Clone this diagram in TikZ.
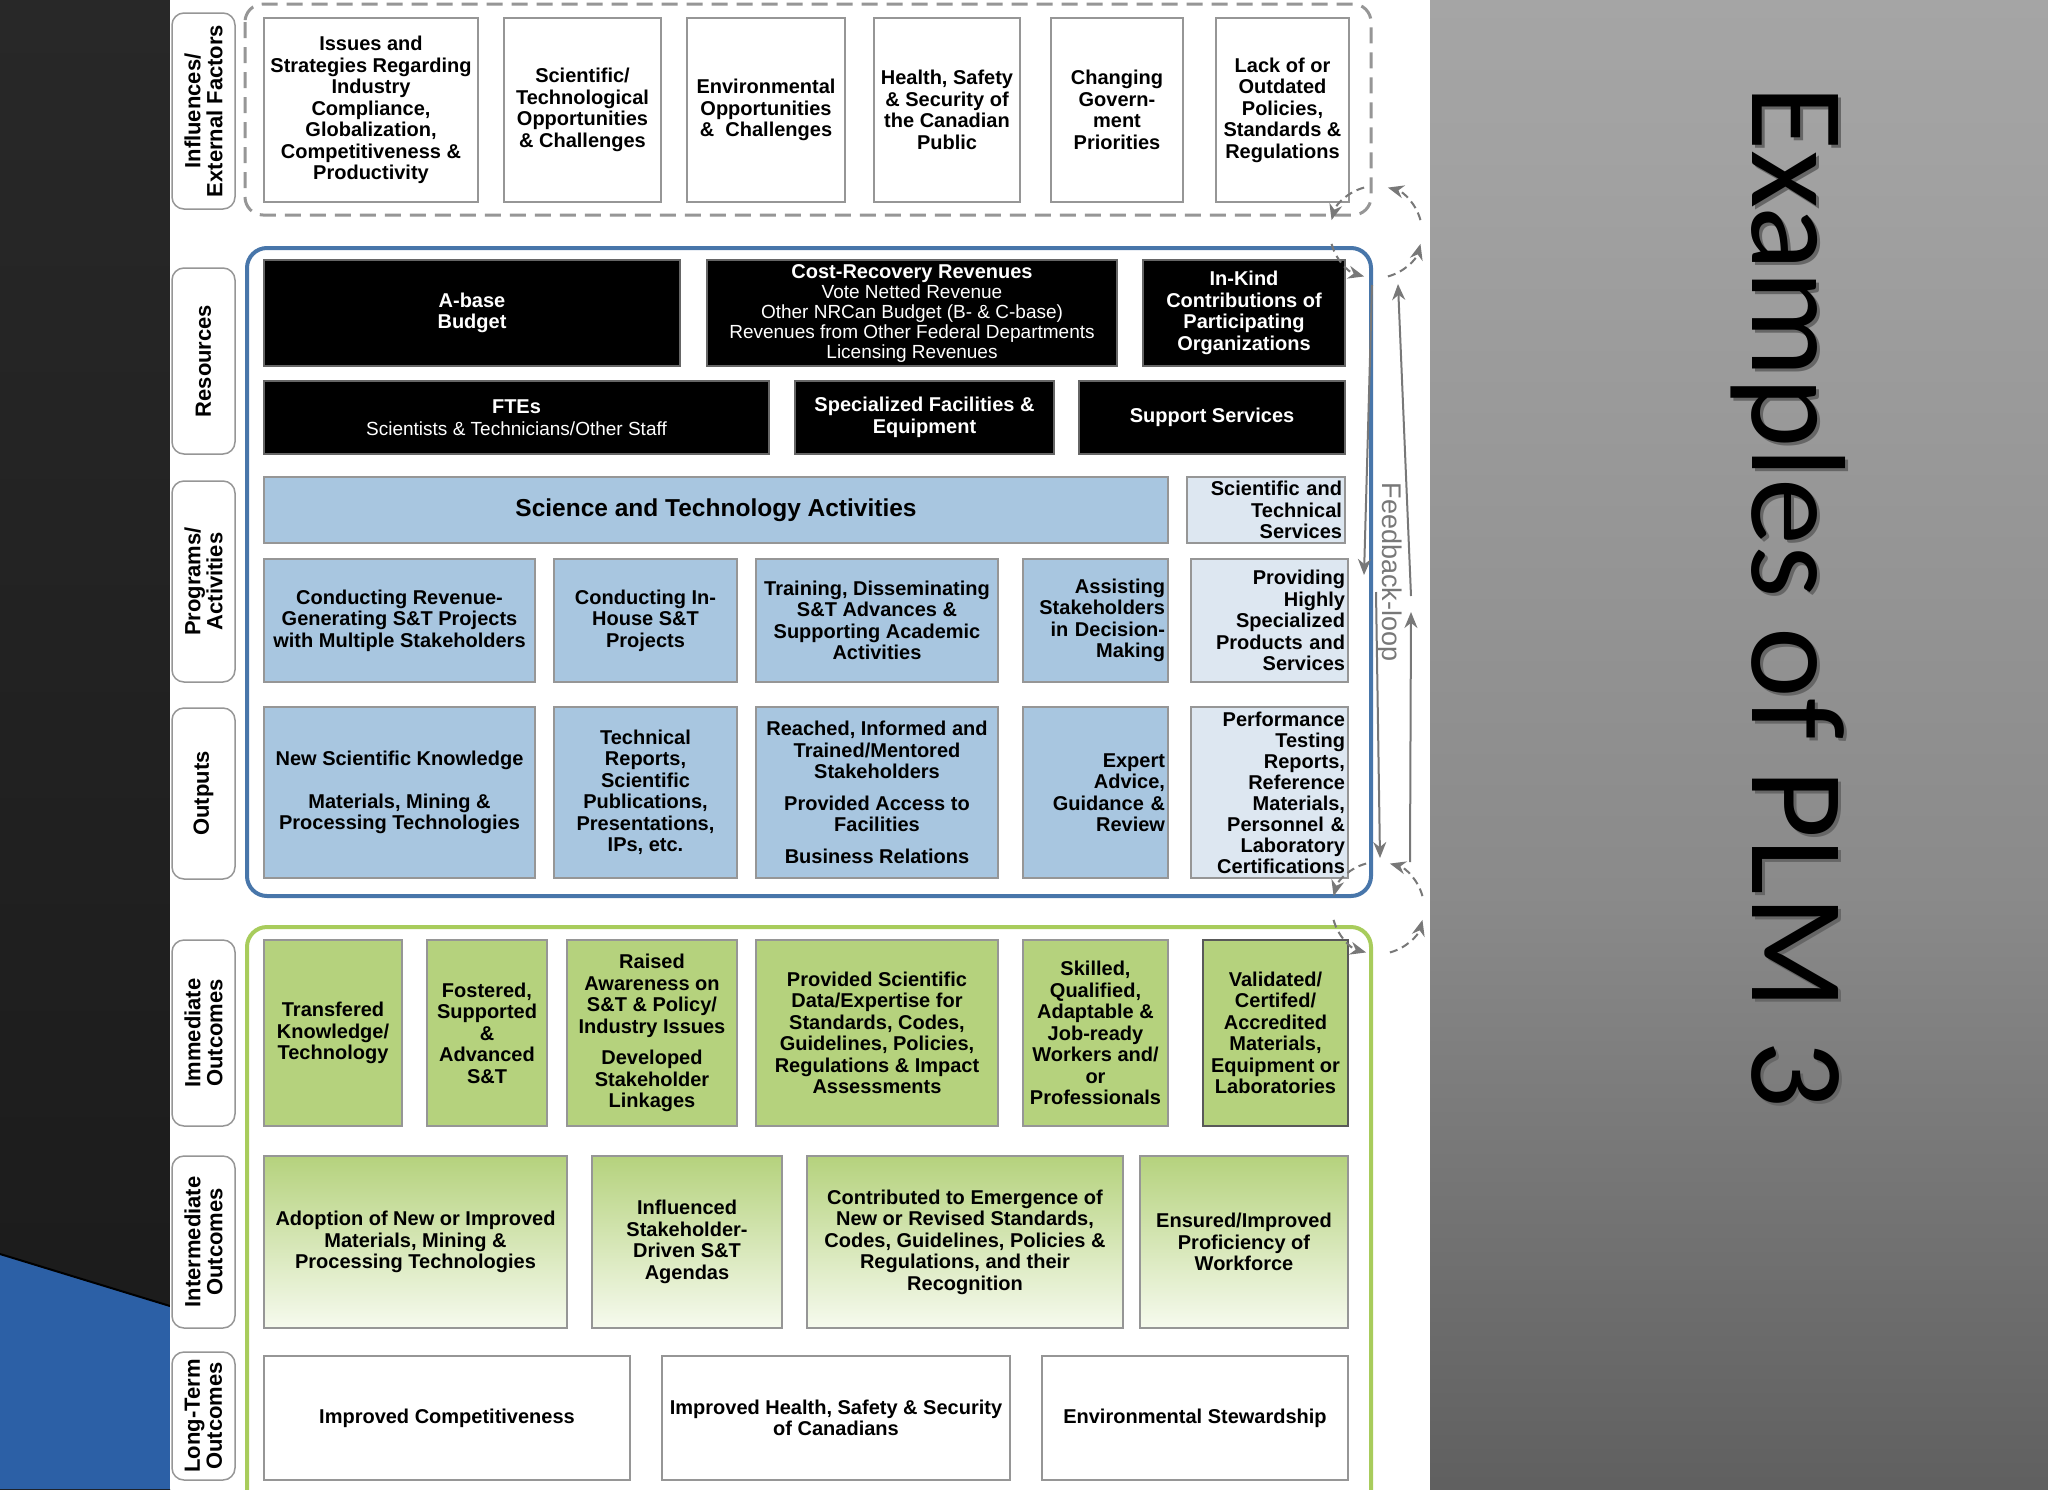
\documentclass[tikz,border=0pt]{standalone}
\usepackage{fontspec}
\setmainfont{Liberation Sans}
\newfontfamily\titlefont{Carlito}
\usetikzlibrary{arrows.meta}
\definecolor{cGrey}{RGB}{150,150,150}
\definecolor{cArrow}{RGB}{120,120,120}
\definecolor{cBlue}{RGB}{72,118,170}
\definecolor{cLBlue}{RGB}{168,198,224}
\definecolor{cVLBlue}{RGB}{221,231,241}
\definecolor{cGreen}{RGB}{181,210,125}
\definecolor{cPale}{RGB}{246,250,238}
\definecolor{cLine}{RGB}{168,204,92}
\definecolor{cStrip}{RGB}{26,26,26}
\definecolor{cStripT}{RGB}{40,40,40}
\definecolor{cSlide}{RGB}{44,96,166}
\definecolor{gA}{RGB}{28,28,28}
\definecolor{gB}{RGB}{85,85,85}
\definecolor{gC}{RGB}{138,138,138}
\definecolor{gD}{RGB}{162,162,162}
\definecolor{gE}{RGB}{179,179,179}
\pgfdeclareverticalshading{sideshade}{100bp}{color(0bp)=(gA); color(20bp)=(gB); color(45bp)=(gC); color(70bp)=(gD); color(100bp)=(gE)}
\newcommand\rg[1]{{\mdseries\fontsize{19}{20}\selectfont #1}}

\tikzset{
  tag/.style={draw=cGrey, line width=1.5pt, fill=white, rounded corners=12pt, rotate=90,
    align=center, inner sep=0pt, font=\fontsize{22}{22}\selectfont\bfseries},
  cell/.style={draw=cGrey, line width=1.5pt, fill=white, align=center, inner xsep=3pt,
    inner ysep=0pt, font=\fontsize{20}{21.5}\selectfont\bfseries},
  res/.style={cell, fill=black, draw=black!60, text=white},
  act/.style={cell, fill=cLBlue},
  svc/.style={cell, fill=cVLBlue},
  rt/.style={align=right},
  imm/.style={cell, fill=cGreen},
  midout/.style={cell, top color=cGreen, bottom color=cPale},
  fb/.style={cArrow, line width=2pt, -{Stealth[length=16pt,width=13pt]}},
  cyc/.style={fb, dash pattern=on 8pt off 5pt},
}

\begin{document}
\begin{tikzpicture}[x=1pt, y=-1pt]
  \useasboundingbox (0,0) rectangle (2048,1489);
  % slide backdrop
  \shade[top color=cStripT, bottom color=cStrip] (0,0) rectangle (170,1489);
  \fill[cSlide] (0,1254) -- (170,1306) -- (170,1489) -- (0,1489) -- cycle;
  \draw[black, line width=2pt] (0,1254) -- (170,1306);
  \fill[white] (170,0) rectangle (1430,1489);
  \shade[shading=sideshade] (1430,0) rectangle (2048,1489);

  % containers
  \draw[cGrey, line width=3pt, dash pattern=on 16pt off 9pt, rounded corners=18pt] (245,4) rectangle (1371,215);
  \draw[cBlue, line width=4pt, rounded corners=20pt] (247,248) rectangle (1371,896);
  \begin{scope}
    \clip (170,0) rectangle (1430,1489);
    \draw[cLine, line width=4pt, rounded corners=20pt] (247,927) rectangle (1371,1530);
  \end{scope}

  % row labels
  \foreach \nm/\cy/\len/\txt in {
      inf/111/196/{Influences/\\External Factors},
      res/361/186/{Resources},
      prog/581.5/201/{Programs/\\Activities},
      out/793.5/171/{Outputs},
      imm/1033/186/{Immediate\\Outcomes},
      int/1242/172/{Intermediate\\Outcomes},
      lt/1416/128/{Long-Term\\Outcomes}} {
    \node[tag, minimum width=\len, minimum height=63] (lbl\nm) at (203.5,\cy) {\txt};
  }

  % influences / external factors
  \node[cell, minimum width=214, minimum height=184] (issues) at (371,110)
    {Issues and\\Strategies Regarding\\Industry\\Compliance,\\Globalization,\\Competitiveness \&\\Productivity};
  \node[cell, minimum width=157, minimum height=184] (scitech) at (582.5,110)
    {Scientific/\\Technological\\Opportunities\\\& Challenges};
  \node[cell, minimum width=158, minimum height=184] (envopp) at (766,110)
    {Environmental\\Opportunities\\\& \ Challenges};
  \node[cell, minimum width=146, minimum height=184] (health) at (947,110)
    {Health, Safety\\\& Security of\\the Canadian\\Public};
  \node[cell, minimum width=132, minimum height=184] (govern) at (1117,110)
    {Changing\\Govern-\\ment\\Priorities};
  \node[cell, minimum width=133, minimum height=184] (policies) at (1282.5,110)
    {Lack of or\\Outdated\\Policies,\\Standards \&\\Regulations};

  % resources
  \node[res, minimum width=416, minimum height=106] (abase) at (472,313) {A-base\\Budget};
  \node[res, minimum width=410, minimum height=106, font=\fontsize{20}{20}\selectfont\bfseries] (costrec) at (912,313)
    {Cost-Recovery Revenues\\\rg{Vote Netted Revenue}\\\rg{Other NRCan Budget (B- \& C-base)}\\\rg{Revenues from Other Federal Departments}\\\rg{Licensing Revenues}};
  \node[res, minimum width=202, minimum height=106] (inkind) at (1244,313)
    {In-Kind\\Contributions of\\Participating\\Organizations};
  \node[res, minimum width=505, minimum height=73] (ftes) at (516.5,417.5)
    {FTEs\\\rg{Scientists \& Technicians/Other Staff}};
  \node[res, minimum width=259, minimum height=73] (facil) at (924.5,417.5)
    {Specialized Facilities \&\\Equipment};
  \node[res, minimum width=266, minimum height=73] (support) at (1212,417.5) {Support Services};

  % programs / activities
  \node[act, minimum width=904, minimum height=66, font=\fontsize{24.5}{26}\selectfont\bfseries] (stact) at (716,510)
    {Science and Technology Activities};
  \node[svc, rt, text width=152, minimum height=66] (stserv) at (1266,510)
    {Scientific and\\Technical\\Services};
  \node[act, minimum width=271, minimum height=123] (prog1) at (399.5,620.5)
    {Conducting Revenue-\\Generating S\&T Projects\\with Multiple Stakeholders};
  \node[act, minimum width=183, minimum height=123] (prog2) at (645.5,620.5)
    {Conducting In-\\House S\&T\\Projects};
  \node[act, minimum width=242, minimum height=123] (prog3) at (877,620.5)
    {Training, Disseminating\\S\&T Advances \&\\Supporting Academic\\Activities};
  \node[act, rt, text width=139, minimum height=123] (prog4) at (1095.5,620.5)
    {Assisting\\Stakeholders\\in Decision-\\Making};
  \node[svc, rt, text width=151, minimum height=123] (prog5) at (1269.5,620.5)
    {Providing\\Highly\\Specialized\\Products and\\Services};

  % outputs
  \node[act, minimum width=271, minimum height=171] (out1) at (399.5,792.5)
    {New Scientific Knowledge\\[21.5pt]Materials, Mining \&\\Processing Technologies};
  \node[act, minimum width=183, minimum height=171] (out2) at (645.5,792.5)
    {Technical\\Reports,\\Scientific\\Publications,\\Presentations,\\IPs, etc.};
  \node[act, minimum width=242, minimum height=171] (out3) at (877,792.5)
    {Reached, Informed and\\Trained/Mentored\\Stakeholders\\[10pt]Provided Access to\\Facilities\\[10pt]Business Relations};
  \node[act, rt, text width=139, minimum height=171] (out4) at (1095.5,792.5)
    {Expert\\Advice,\\Guidance \&\\Review};
  \node[svc, rt, text width=151, minimum height=171, font=\fontsize{20}{21}\selectfont\bfseries] (out5) at (1269.5,792.5)
    {Performance\\Testing\\Reports,\\Reference\\Materials,\\Personnel \&\\Laboratory\\Certifications};

  % immediate outcomes
  \node[imm, minimum width=138, minimum height=186] (imm1) at (333,1033)
    {Transfered\\Knowledge/\\Technology};
  \node[imm, minimum width=120, minimum height=186] (imm2) at (487,1033)
    {Fostered,\\Supported\\\&\\Advanced\\S\&T};
  \node[imm, minimum width=170, minimum height=186] (imm3) at (652,1033)
    {Raised\\Awareness on\\S\&T \& Policy/\\Industry Issues\\[10pt]Developed\\Stakeholder\\Linkages};
  \node[imm, minimum width=242, minimum height=186] (imm4) at (877,1033)
    {Provided Scientific\\Data/Expertise for\\Standards, Codes,\\Guidelines, Policies,\\Regulations \& Impact\\Assessments};
  \node[imm, minimum width=145, minimum height=186] (imm5) at (1095.5,1033)
    {Skilled,\\Qualified,\\Adaptable \&\\Job-ready\\Workers and/\\or\\Professionals};
  \node[imm, draw=black!65, minimum width=145, minimum height=186] (imm6) at (1275.5,1033)
    {Validated/\\Certifed/\\Accredited\\Materials,\\Equipment or\\Laboratories};

  % intermediate outcomes
  \node[midout, minimum width=303, minimum height=172] (int1) at (415.5,1242)
    {Adoption of New or Improved\\Materials, Mining \&\\Processing Technologies};
  \node[midout, minimum width=190, minimum height=172] (int2) at (687,1242)
    {Influenced\\Stakeholder-\\Driven S\&T\\Agendas};
  \node[midout, minimum width=316, minimum height=172] (int3) at (965,1242)
    {Contributed to Emergence of\\New or Revised Standards,\\Codes, Guidelines, Policies \&\\Regulations, and their\\Recognition};
  \node[midout, minimum width=208, minimum height=172] (int4) at (1244,1242)
    {Ensured/Improved\\Proficiency of\\Workforce};

  % long-term outcomes
  \node[cell, minimum width=366, minimum height=124] (lt1) at (447,1418) {Improved Competitiveness};
  \node[cell, minimum width=348, minimum height=124] (lt2) at (836,1418)
    {Improved Health, Safety \& Security\\of Canadians};
  \node[cell, minimum width=306, minimum height=124] (lt3) at (1195,1418) {Environmental Stewardship};

  % feedback loop
  \coordinate (toploop) at (1376,232);
  \coordinate (botloop) at (1378,908);
  \foreach \c in {toploop, botloop} {
    \draw[cyc] (\c) ++(255:46) arc (255:195:46);
    \draw[cyc] (\c) ++(165:46) arc (165:105:46);
    \draw[cyc] (\c) ++(75:46) arc (75:15:46);
    \draw[cyc] (\c) ++(-15:46) arc (-15:-75:46);
  }
  \coordinate (fbA) at (1372,285);
  \coordinate (fbB) at (1364,575);
  \coordinate (fbC) at (1376,592);
  \coordinate (fbD) at (1380,858);
  \coordinate (fbE) at (1410,862);
  \coordinate (fbF) at (1411,612);
  \coordinate (fbG) at (1411,596);
  \coordinate (fbH) at (1398,284);
  \draw[fb] (fbA) -- (fbB);
  \draw[fb] (fbC) -- (fbD);
  \draw[fb] (fbE) -- (fbF);
  \draw[fb] (fbG) -- (fbH);
  \node[rotate=-90, text=cArrow, inner sep=0pt, font=\fontsize{27}{27}\selectfont] (fbtext) at (1389,572) {Feedback-loop};

  % slide title
  \node[rotate=-90, anchor=base west, inner sep=0pt, text=black!60, font=\titlefont\fontsize{134}{134}\selectfont] (titleshadow) at (1755,88)
    {Examples of PLM 3};
  \node[rotate=-90, anchor=base west, inner sep=0pt, text=black, font=\titlefont\fontsize{134}{134}\selectfont] (title) at (1752,85)
    {Examples of PLM 3};
\end{tikzpicture}
\end{document}
